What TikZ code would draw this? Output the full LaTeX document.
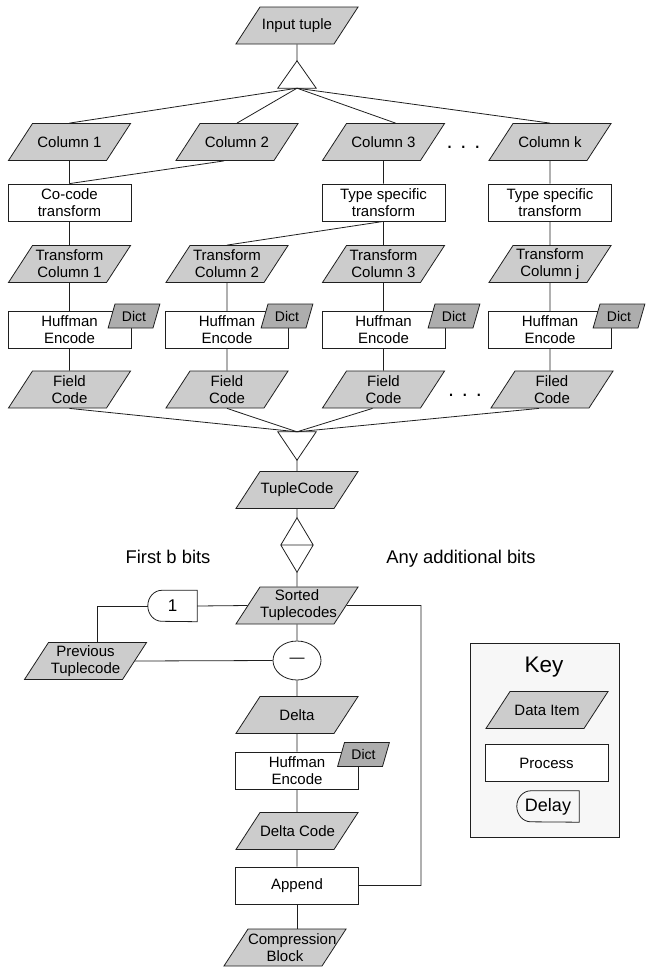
\documentclass[tikz,border=0pt]{standalone}
\usepackage{fontspec}
\setmainfont{Liberation Sans}
\usetikzlibrary{shapes.geometric}
\definecolor{datagray}{gray}{0.80}
\definecolor{dictgray}{gray}{0.68}
\definecolor{keyfill}{gray}{0.97}
\definecolor{linec}{gray}{0.12}
\newcommand{\txtsz}{\fontsize{15}{17}\selectfont}
\newcommand{\dictsz}{\fontsize{14}{16}\selectfont}
\newcommand{\lblsz}{\fontsize{18.4}{20}\selectfont}
\newcommand{\keysz}{\fontsize{22.5}{24}\selectfont}
\newcommand{\onesz}{\fontsize{17}{18}\selectfont}
\newcommand{\delaysz}{\fontsize{18}{19}\selectfont}
\newcommand{\dotsz}{\fontsize{21.6}{22}\selectfont}
\newcommand{\dtext}[1]{\parbox[c][37pt][c]{74pt}{\centering\txtsz #1}}
\newcommand{\ktext}[1]{\parbox[c][24pt][c]{38pt}{\centering\dictsz #1}}
\begin{document}
\begin{tikzpicture}[x=1pt,y=1pt,
  every node/.style={inner sep=0pt},
  data/.style={trapezium, trapezium left angle=57, trapezium right angle=123,
    draw=linec, fill=datagray, line width=0.8pt},
  dictbox/.style={trapezium, trapezium left angle=74, trapezium right angle=106,
    draw=linec, fill=dictgray, line width=0.8pt},
  proc/.style={rectangle, draw=linec, fill=white, line width=0.8pt,
    minimum width=123pt, minimum height=37pt, align=center, font=\txtsz},
  hold/.style={rectangle, draw=none},
  conn/.style={draw=linec, line width=0.8pt},
  lbl/.style={font=\lblsz, anchor=base},
  dotrow/.style={font=\dotsz}]
\useasboundingbox (0,0) rectangle (646,-967);

% ---------- top part ----------
\node[data] (inp) at (297,-25.5) {\dtext{Input tuple}};
\node[hold, minimum width=38pt, minimum height=27pt] (split) at (297,-74.5) {};
\draw[conn] (split.north) -- (split.south east) -- (split.south west) -- cycle;

\node[data] (c1) at (69.5,-142) {\dtext{Column 1}};
\node[data] (c2) at (237,-142) {\dtext{Column 2}};
\node[data] (c3) at (383.5,-142) {\dtext{Column 3}};
\node[data] (ck) at (550,-142) {\dtext{Column k}};
\node[dotrow] (dots1) at (463.5,-147) {. . .};

\node[proc] (cc) at (69.5,-202.5) {Co-code\\transform};
\node[proc] (ts3) at (383.5,-202.5) {Type specific\\transform};
\node[proc] (tsk) at (550,-202.5) {Type specific\\transform};

\node[data] (tc1) at (69.5,-264) {\dtext{Transform\\Column 1}};
\node[data] (tc2) at (227,-264) {\dtext{Transform\\Column 2}};
\node[data] (tc3) at (383.5,-264) {\dtext{Transform\\Column 3}};
\node[data] (tcj) at (550,-264) {\dtext{Transform\\Column j}};

\node[proc] (h1) at (69.5,-330) {Huffman\\Encode};
\node[proc] (h2) at (227,-330) {Huffman\\Encode};
\node[proc] (h3) at (383.5,-330) {Huffman\\Encode};
\node[proc] (h4) at (550,-330) {Huffman\\Encode};
\node[dictbox] (d1) at (134,-316) {\ktext{Dict}};
\node[dictbox] (d2) at (287,-316) {\ktext{Dict}};
\node[dictbox] (d3) at (454,-316) {\ktext{Dict}};
\node[dictbox] (d4) at (619,-316) {\ktext{Dict}};

\node[data] (f1) at (69.5,-389.5) {\dtext{Field\\Code}};
\node[data] (f2) at (227,-389.5) {\dtext{Field\\Code}};
\node[data] (f3) at (383.5,-389.5) {\dtext{Field\\Code}};
\node[data] (f4) at (552,-389.5) {\dtext{Filed\\Code}};
\node[dotrow] (dots2) at (465,-395) {. . .};

\node[hold, minimum width=38pt, minimum height=28pt] (merge) at (297,-446) {};
\draw[conn] (merge.north west) -- (merge.north east) -- (merge.south) -- cycle;

% connectors top
\draw[conn] (inp.south) -- (split.north);
\draw[conn] (split.south) -- (c1.north);
\draw[conn] (split.south) -- (c2.north);
\draw[conn] (split.south) -- ([xshift=12pt]c3.north);
\draw[conn] (split.south) -- (ck.north);
\draw[conn] (c1.south) -- (cc.north);
\draw[conn] ([xshift=-13pt]c2.south) -- (cc.north);
\draw[conn] (c3.south) -- (ts3.north);
\draw[conn] (ck.south) -- (tsk.north);
\draw[conn] (cc.south) -- (tc1.north);
\draw[conn] (ts3.south) -- (tc2.north);
\draw[conn] (ts3.south) -- (tc3.north);
\draw[conn] (tsk.south) -- (tcj.north);
\draw[conn] (tc1.south) -- (h1.north);
\draw[conn] (tc2.south) -- (h2.north);
\draw[conn] (tc3.south) -- (h3.north);
\draw[conn] (tcj.south) -- (h4.north);
\draw[conn] (h1.south) -- (f1.north);
\draw[conn] (h2.south) -- (f2.north);
\draw[conn] (h3.south) -- (f3.north);
\draw[conn] (h4.south) -- ([xshift=-2pt]f4.north);
\draw[conn] (f1.south) -- (merge.north);
\draw[conn] (f2.south) -- (merge.north);
\draw[conn] ([xshift=-11pt]f3.south) -- (merge.north);
\draw[conn] ([xshift=-13pt]f4.south) -- (merge.north);

% ---------- middle part ----------
\node[data] (tcode) at (297,-490) {\dtext{TupleCode}};
\node[hold, minimum width=32pt, minimum height=54pt] (sep) at (297,-545) {};
\draw[conn] (sep.north) -- (sep.east) -- (sep.south) -- (sep.west) -- cycle
  (sep.west) -- (sep.east);
\node[lbl] (lfirst) at (168,-563.5) {First b bits};
\node[lbl] (lany) at (461,-563.5) {Any additional bits};

\node[data] (sorted) at (297,-605.5) {\dtext{Sorted\\Tuplecodes}};
\node[hold, minimum width=49pt, minimum height=31pt, font=\onesz] (dly) at (172.5,-606) {1};
\draw[conn] (dly.north east) -- ([xshift=14pt]dly.north west)
  arc[start angle=90, end angle=270, x radius=14pt, y radius=15.5pt]
  -- (dly.south east) -- cycle;
\node[data] (prev) at (85.5,-661) {\dtext{Previous\\Tuplecode}};
\node[ellipse, draw=linec, line width=0.8pt, minimum width=48pt, minimum height=39pt,
  font=\txtsz] (diff) at (297,-660.5) {—};

\node[data] (delta) at (297,-715) {\dtext{Delta}};
\node[proc] (hd) at (297,-770.5) {Huffman\\Encode};
\node[dictbox] (dd) at (363.5,-754.5) {\ktext{Dict}};
\node[data] (dcode) at (297,-831) {\dtext{\mbox{Delta Code}}};
\node[proc] (app) at (297,-885.5) {Append};
\node[data] (comp) at (285,-947.5) {\dtext{Compression\\Block}};
\coordinate (rturn) at (421,-605.5);

\draw[conn] (merge.south) -- (tcode.north);
\draw[conn] (tcode.south) -- (sep.north);
\draw[conn] (sep.south) -- (sorted.north);
\draw[conn] (sorted.west) -- (dly.east);
\draw[conn] (dly.west) -| ([xshift=11.5pt]prev.north);
\draw[conn] (prev.east) -- (diff.west);
\draw[conn] (sorted.south) -- (diff.north);
\draw[conn] (diff.south) -- (delta.north);
\draw[conn] (delta.south) -- (hd.north);
\draw[conn] (hd.south) -- (dcode.north);
\draw[conn] (dcode.south) -- (app.north);
\draw[conn] (app.south) -- (app.south |- comp.north);
\draw[conn] (sorted.east) -- (rturn) |- (app.east);

% ---------- key ----------
\node[rectangle, draw=linec, line width=0.8pt, fill=keyfill, minimum width=149pt,
  minimum height=194pt] (key) at (544.5,-740) {};
\node[font=\keysz, anchor=base] (keyttl) at (544,-672) {Key};
\node[data] (kdata) at (547,-710) {\dtext{Data Item}};
\node[proc] (kproc) at (546.5,-763) {Process};
\node[hold, minimum width=62pt, minimum height=31pt, font=\delaysz] (kdly) at (548,-806.5) {Delay};
\draw[conn] (kdly.north east) -- ([xshift=14pt]kdly.north west)
  arc[start angle=90, end angle=270, x radius=14pt, y radius=15.5pt]
  -- (kdly.south east) -- cycle;
\end{tikzpicture}
\end{document}
